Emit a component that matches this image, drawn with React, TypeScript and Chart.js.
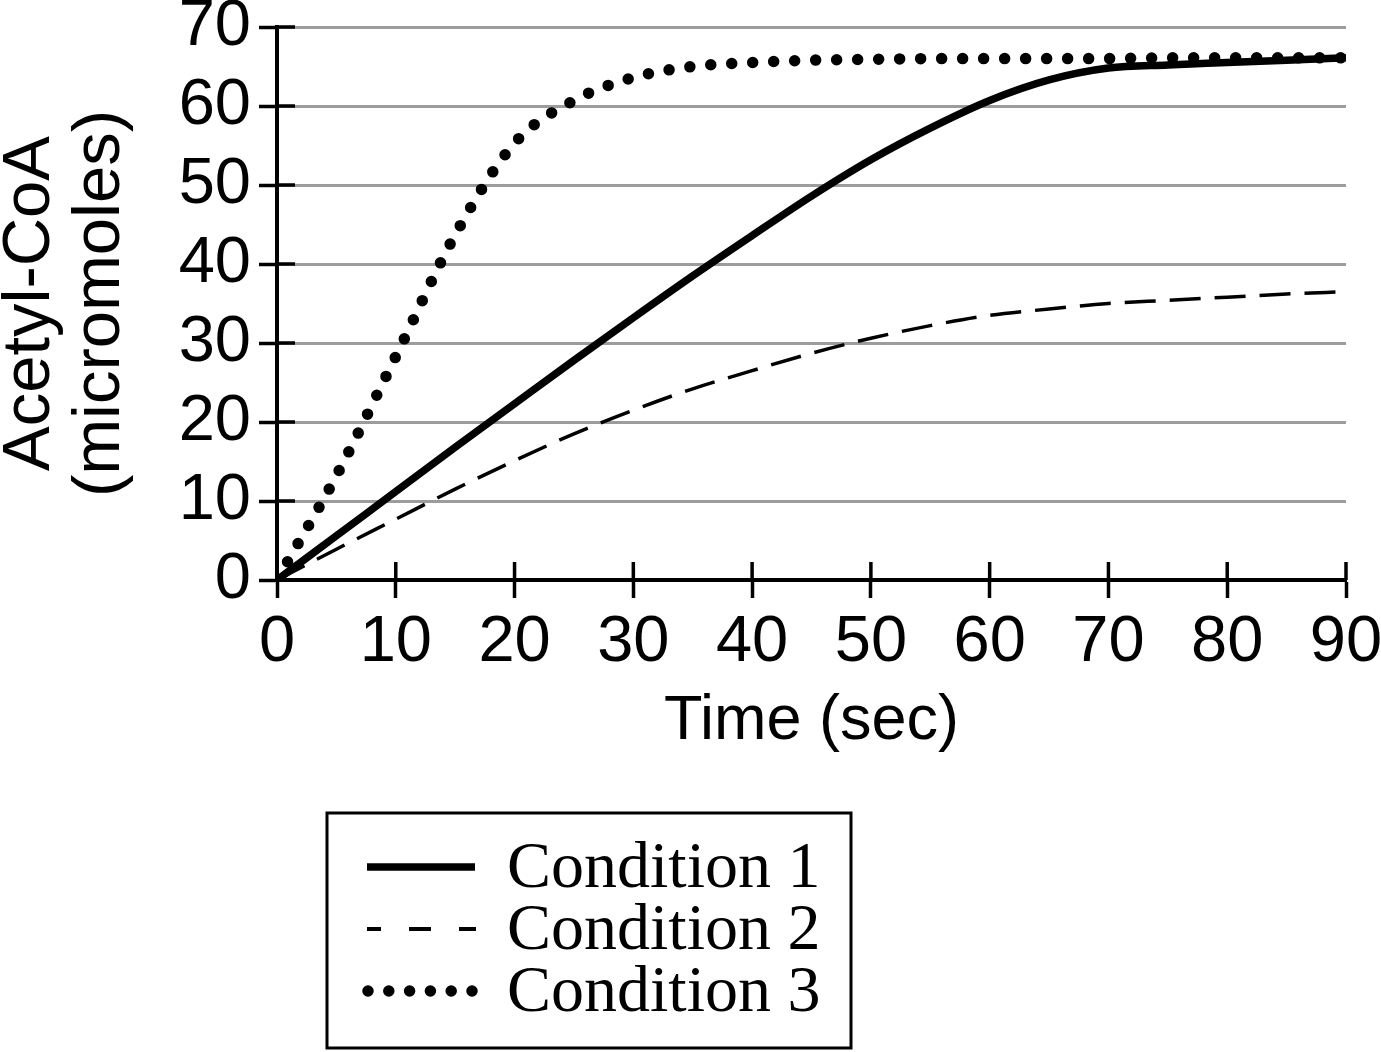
import React, { useEffect, useRef } from 'react';
import { Chart, registerables, Plugin, ChartConfiguration } from 'chart.js';

Chart.register(...registerables);

// time points (sec)
const TIME = [0, 5, 10, 15, 20, 25, 30, 35, 40, 45, 50, 55, 60, 65, 70, 75, 80, 85, 90];

// Acetyl-CoA (micromoles)
const CONDITION_1 = [0, 5.6, 11.2, 16.8, 22.3, 27.8, 33.2, 38.5, 43.6, 48.6, 53.2, 57.2, 60.7, 63.3, 64.8, 65.2, 65.5, 65.8, 66.1];
const CONDITION_2 = [0, 3.9, 7.7, 11.5, 15.1, 18.5, 21.5, 24.2, 26.5, 28.7, 30.6, 32.2, 33.5, 34.3, 35.0, 35.4, 35.8, 36.2, 36.5];
const CONDITION_3 = [0, 13.2, 28.3, 43.7, 55.3, 60.7, 63.6, 65.0, 65.5, 65.8, 65.9, 66.0, 66.0, 66.0, 66.0, 66.1, 66.1, 66.1, 66.1];

const SERIES_LABELS = ['Condition 1', 'Condition 2', 'Condition 3'];
const Y_TITLE = ['Acetyl-CoA', '(micromoles)'];
const X_TITLE = 'Time (sec)';

const SANS = "'Liberation Sans', Arial, Helvetica, sans-serif";
const SERIF = "'Liberation Serif', 'Times New Roman', serif";

const toPoints = (ys: number[]) => ys.map((y, i) => ({ x: TIME[i], y }));

// ticks in the reference cross the axis, so draw the inner half too
const crossTicks: Plugin = {
  id: 'crossTicks',
  beforeDatasetsDraw(chart) {
    const { ctx, chartArea, scales } = chart;
    const len = 18;
    ctx.save();
    ctx.strokeStyle = '#000';
    ctx.lineWidth = 3.5;
    ctx.beginPath();
    scales.y.ticks.forEach((t) => {
      const y = scales.y.getPixelForValue(t.value);
      ctx.moveTo(chartArea.left, y);
      ctx.lineTo(chartArea.left + len, y);
    });
    scales.x.ticks.forEach((t) => {
      const x = scales.x.getPixelForValue(t.value);
      ctx.moveTo(x, chartArea.bottom);
      ctx.lineTo(x, chartArea.bottom - len);
    });
    ctx.stroke();
    ctx.restore();
  },
};

// boxed legend under the chart, serif labels
const boxLegend: Plugin = {
  id: 'boxLegend',
  afterDraw(chart) {
    const { ctx } = chart;
    const box = { left: 327, top: 813, right: 851, bottom: 1048 };
    const rows = [867, 929, 991];
    const sampleX0 = 367;
    const sampleX1 = 475;
    ctx.save();
    ctx.strokeStyle = '#000';
    ctx.lineWidth = 3;
    ctx.strokeRect(box.left, box.top, box.right - box.left, box.bottom - box.top);

    chart.data.datasets.forEach((ds: any, i) => {
      const y = rows[i];
      ctx.beginPath();
      ctx.lineCap = i === 2 ? 'round' : 'butt';
      if (i === 0) {
        ctx.lineWidth = 7.5;
        ctx.setLineDash([]);
        ctx.moveTo(sampleX0, y);
        ctx.lineTo(sampleX1, y);
      } else if (i === 1) {
        ctx.lineWidth = 4;
        ctx.setLineDash([22, 28]);
        ctx.lineDashOffset = 8;
        ctx.moveTo(sampleX0, y);
        ctx.lineTo(sampleX1 + 1, y);
      } else {
        ctx.lineWidth = 11.5;
        ctx.setLineDash([0, 20.8]);
        ctx.lineDashOffset = 0;
        ctx.moveTo(sampleX0 + 1, y);
        ctx.lineTo(sampleX1, y);
      }
      ctx.stroke();
      ctx.setLineDash([]);

      ctx.fillStyle = '#000';
      ctx.font = `66px ${SERIF}`;
      ctx.textBaseline = 'middle';
      ctx.textAlign = 'left';
      ctx.fillText(ds.label, 507, y + 3);
    });
    ctx.restore();
  },
};

export default function App() {
  const canvasRef = useRef<HTMLCanvasElement>(null);

  useEffect(() => {
    document.body.style.margin = '0';
    if (!canvasRef.current) return;

    const config: ChartConfiguration<'line'> = {
      type: 'line',
      data: {
        datasets: [
          {
            label: SERIES_LABELS[0],
            data: toPoints(CONDITION_1),
            borderColor: '#000',
            borderWidth: 7.5,
            cubicInterpolationMode: 'monotone',
            pointRadius: 0,
            order: 1,
          },
          {
            label: SERIES_LABELS[1],
            data: toPoints(CONDITION_2),
            borderColor: '#000',
            borderWidth: 3.5,
            borderDash: [31, 14],
            cubicInterpolationMode: 'monotone',
            pointRadius: 0,
            order: 2,
          },
          {
            label: SERIES_LABELS[2],
            data: toPoints(CONDITION_3),
            borderColor: '#000',
            borderWidth: 11.5,
            borderDash: [0, 21],
            borderCapStyle: 'round',
            cubicInterpolationMode: 'monotone',
            pointRadius: 0,
            order: 0,
          },
        ],
      },
      options: {
        responsive: false,
        animation: false,
        devicePixelRatio: 1,
        layout: { padding: { top: 27, right: 35, left: 0, bottom: 292 } },
        plugins: {
          legend: { display: false },
          tooltip: { enabled: false },
        },
        scales: {
          x: {
            type: 'linear',
            min: 0,
            max: 90,
            afterFit: (scale: any) => {
              scale.height = 180;
              scale.paddingLeft = 0;
              scale.paddingRight = 0;
            },
            ticks: {
              stepSize: 10,
              autoSkip: false,
              maxRotation: 0,
              color: '#000',
              padding: 6,
              font: { family: SANS, size: 65 },
            },
            grid: {
              drawOnChartArea: false,
              tickColor: '#000',
              tickWidth: 3.5,
              tickLength: 18,
            },
            border: { color: '#000', width: 4 },
            title: {
              display: true,
              text: X_TITLE,
              color: '#000',
              padding: { top: 0, bottom: 1 },
              font: { family: SANS, size: 63 },
            },
          },
          y: {
            min: 0,
            max: 70,
            afterFit: (scale: any) => {
              scale.width = 277;
              scale.paddingTop = 0;
              scale.paddingBottom = 0;
            },
            ticks: {
              stepSize: 10,
              autoSkip: false,
              color: '#000',
              padding: 8,
              font: { family: SANS, size: 65 },
            },
            grid: {
              color: (c: any) => (c.tick && c.tick.value === 0 ? 'rgba(0,0,0,0)' : '#9c9c9c'),
              lineWidth: 3,
              tickColor: '#000',
              tickWidth: 3.5,
              tickLength: 18,
            },
            border: { color: '#000', width: 4 },
            title: {
              display: true,
              text: Y_TITLE,
              color: '#000',
              padding: { top: -5, bottom: 0 },
              font: { family: SANS, size: 67, lineHeight: 1.05 },
            },
          },
        },
      },
      plugins: [crossTicks, boxLegend],
    };

    const chart = new Chart(canvasRef.current, config);
    return () => chart.destroy();
  }, []);

  return (
    <div style={{ width: 1381, height: 1052, background: '#fff' }}>
      <canvas ref={canvasRef} width={1381} height={1052} style={{ display: 'block' }} />
    </div>
  );
}
